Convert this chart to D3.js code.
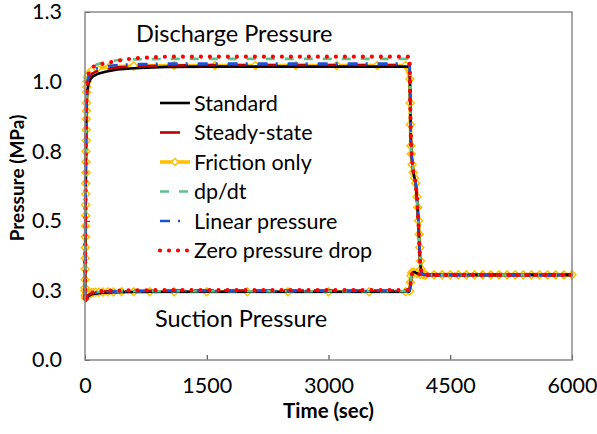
<!DOCTYPE html>
<html>
<head>
<meta charset="utf-8">
<script src="https://cdn.jsdelivr.net/npm/d3@7"></script>
<style>
  body { margin: 0; background: #fff; }
  svg { display: block; font-family: Lato, "Liberation Sans", sans-serif; }
</style>
</head>
<body>
<div id="chart"></div>
<script>
// time axis ticks and pressure ticks (MPa)
var timeTicks = [0, 1500, 3000, 4500, 6000];
var pressTicks = [0, 0.26, 0.52, 0.78, 1.04, 1.3];

var legendNames = ["Standard", "Steady-state", "Friction only", "dp/dt", "Linear pressure", "Zero pressure drop"];

// discharge side, shared times (sec)
var timeDis = [0, 4, 8, 12, 16, 22, 30, 45, 70, 100, 150, 250, 400, 600, 1000, 1500, 2500, 3500, 4000,
  4005, 4010, 4015, 4025, 4045, 4075, 4095, 4110, 4120, 4130, 4145, 4170, 4250, 5000, 6000];
var standardDis = [0.25, 0.45, 0.65, 0.80, 0.90, 0.97, 1.01, 1.035, 1.05, 1.06, 1.068, 1.077, 1.085, 1.09, 1.095, 1.096, 1.096, 1.096, 1.096,
  1.0, 0.9, 0.82, 0.76, 0.70, 0.66, 0.58, 0.50, 0.42, 0.36, 0.325, 0.32, 0.318, 0.318, 0.318];
var steadyDis = [0.24, 0.46, 0.68, 0.84, 0.93, 0.99, 1.025, 1.05, 1.065, 1.072, 1.08, 1.087, 1.093, 1.097, 1.1, 1.102, 1.102, 1.102, 1.102,
  1.0, 0.9, 0.82, 0.76, 0.70, 0.66, 0.58, 0.50, 0.42, 0.36, 0.325, 0.32, 0.318, 0.318, 0.318];
var dpdtDis = [0.26, 0.5, 0.72, 0.88, 0.96, 1.02, 1.05, 1.07, 1.085, 1.095, 1.105, 1.113, 1.12, 1.123, 1.125, 1.125, 1.125, 1.125, 1.125,
  1.0, 0.9, 0.82, 0.76, 0.70, 0.66, 0.58, 0.50, 0.42, 0.36, 0.325, 0.32, 0.318, 0.318, 0.318];
var linearDis = [0.25, 0.48, 0.7, 0.86, 0.94, 1.0, 1.035, 1.06, 1.075, 1.083, 1.09, 1.097, 1.102, 1.105, 1.107, 1.107, 1.107, 1.107, 1.107,
  1.0, 0.9, 0.82, 0.76, 0.70, 0.66, 0.58, 0.50, 0.42, 0.36, 0.325, 0.32, 0.318, 0.318, 0.318];
var zeroDis = [0.23, 0.45, 0.68, 0.85, 0.95, 1.02, 1.05, 1.07, 1.085, 1.095, 1.102, 1.108, 1.118, 1.127, 1.133, 1.133, 1.133, 1.133, 1.133,
  1.0, 0.9, 0.82, 0.76, 0.70, 0.66, 0.58, 0.50, 0.42, 0.36, 0.325, 0.32, 0.318, 0.318, 0.318];

// suction side, shared times (sec)
var timeSuc = [0, 5, 10, 20, 40, 60, 100, 200, 300, 500, 1000, 2000, 3000, 3990, 4000, 4010, 4020, 4035, 4055, 4080, 4120, 4200, 5000, 6000];
var standardSuc = [0.26, 0.23, 0.225, 0.23, 0.238, 0.242, 0.247, 0.25, 0.252, 0.254, 0.255, 0.255, 0.255, 0.255, 0.258, 0.28, 0.31, 0.326, 0.329, 0.325, 0.32, 0.318, 0.318, 0.318];
var steadySuc = [0.25, 0.225, 0.222, 0.232, 0.242, 0.247, 0.252, 0.255, 0.257, 0.258, 0.259, 0.259, 0.259, 0.259, 0.262, 0.285, 0.312, 0.326, 0.329, 0.325, 0.32, 0.318, 0.318, 0.318];
var dpdtSuc = [0.26, 0.235, 0.232, 0.238, 0.245, 0.249, 0.252, 0.255, 0.256, 0.257, 0.257, 0.257, 0.257, 0.257, 0.26, 0.284, 0.311, 0.326, 0.329, 0.325, 0.32, 0.318, 0.318, 0.318];
var linearSuc = [0.25, 0.23, 0.228, 0.235, 0.243, 0.248, 0.252, 0.255, 0.256, 0.257, 0.258, 0.258, 0.258, 0.258, 0.261, 0.284, 0.311, 0.326, 0.329, 0.325, 0.32, 0.318, 0.318, 0.318];
var zeroSuc = [0.24, 0.22, 0.218, 0.228, 0.24, 0.247, 0.253, 0.257, 0.259, 0.26, 0.261, 0.261, 0.261, 0.261, 0.263, 0.285, 0.312, 0.326, 0.329, 0.325, 0.32, 0.318, 0.318, 0.318];

// friction only has its own (denser) output times, every point is a marker
var frictionTimeDis = [0, 1, 2, 3, 4, 5, 6, 7, 8, 9, 10, 11, 12, 13, 14, 15, 16, 17, 18, 20, 22, 25, 30, 40, 60, 90, 150, 300, 600,
  1100, 1600, 2100, 2600, 3100, 3600, 3950, 4003, 4006, 4010, 4015, 4020, 4030, 4045, 4060, 4075, 4090, 4100, 4110, 4118, 4125, 4132, 4140, 4150, 4165, 4180];
var frictionDis = [0.26, 0.30, 0.34, 0.38, 0.42, 0.46, 0.50, 0.54, 0.58, 0.62, 0.66, 0.70, 0.74, 0.78, 0.82, 0.86, 0.90, 0.93, 0.96, 1.0, 1.02, 1.04, 1.055, 1.065, 1.075, 1.083, 1.09, 1.095, 1.098,
  1.1, 1.1, 1.1, 1.1, 1.1, 1.1, 1.1, 1.05, 0.96, 0.88, 0.8, 0.77, 0.73, 0.7, 0.68, 0.66, 0.61, 0.57, 0.52, 0.47, 0.42, 0.37, 0.34, 0.325, 0.32, 0.318];
var frictionTimeSuc = [0, 3, 6, 10, 15, 20, 30, 45, 60, 80, 100, 130, 170, 220, 280, 350, 450, 600, 800, 1100, 1500, 2000, 2500, 3000, 3500, 3950,
  4000, 4008, 4016, 4025, 4040, 4060, 4090, 4130, 4200, 4300, 4400, 4500, 4600, 4700, 4800, 4900, 5000, 5100, 5200, 5300, 5400, 5500, 5600, 5700, 5800, 5900, 6000];
var frictionSuc = [0.27, 0.24, 0.232, 0.235, 0.24, 0.243, 0.246, 0.248, 0.25, 0.251, 0.252, 0.253, 0.253, 0.254, 0.254, 0.254, 0.255, 0.255, 0.255, 0.255, 0.255, 0.255, 0.255, 0.255, 0.255, 0.255,
  0.258, 0.29, 0.315, 0.327, 0.329, 0.327, 0.323, 0.32, 0.318, 0.318, 0.318, 0.318, 0.318, 0.318, 0.318, 0.318, 0.318, 0.318, 0.318, 0.318, 0.318, 0.318, 0.318, 0.318, 0.318, 0.318, 0.318];

var W = 597, H = 434;
var mLeft = 85, mRight = 572, mTop = 12, mBottom = 360;

var x = d3.scaleLinear().domain([0, 6000]).range([mLeft, mRight]);
var y = d3.scaleLinear().domain([0, 1.3]).range([mBottom, mTop]);

function zipSeries(t, v) {
  return t.map(function (d, i) { return [d, v[i]]; });
}

// draw order: friction below the others, like the original plot
var series = [
  { name: "Friction only", color: "#FFC000", width: 3.6, dash: null, marker: true,
    parts: [zipSeries(frictionTimeDis, frictionDis), zipSeries(frictionTimeSuc, frictionSuc)] },
  { name: "Standard", color: "#000000", width: 2.6, dash: null,
    parts: [zipSeries(timeDis, standardDis), zipSeries(timeSuc, standardSuc)] },
  { name: "Steady-state", color: "#C00000", width: 2.6, dash: "20,10",
    parts: [zipSeries(timeDis, steadyDis), zipSeries(timeSuc, steadySuc)] },
  { name: "dp/dt", color: "#5CC28A", width: 2.6, dash: "9,10",
    parts: [zipSeries(timeDis, dpdtDis), zipSeries(timeSuc, dpdtSuc)] },
  { name: "Linear pressure", color: "#1F4FD6", width: 2.6, dash: "10,8,2,10",
    parts: [zipSeries(timeDis, linearDis), zipSeries(timeSuc, linearSuc)] },
  { name: "Zero pressure drop", color: "#FF0000", width: 4.2, dash: "0,9", round: true,
    parts: [zipSeries(timeDis, zeroDis), zipSeries(timeSuc, zeroSuc)] }
];

var svg = d3.select("#chart").append("svg")
  .attr("width", W).attr("height", H);

// axes with inside ticks
var xAxis = d3.axisBottom(x).tickValues(timeTicks).tickSize(-5).tickPadding(18)
  .tickFormat(d3.format("d"));
var yAxis = d3.axisLeft(y).tickValues(pressTicks).tickSize(-5).tickPadding(23)
  .tickFormat(d3.format(".1f"));

var gx = svg.append("g").attr("transform", "translate(0," + mBottom + ")").call(xAxis);
var gy = svg.append("g").attr("transform", "translate(" + mLeft + ",0)").call(yAxis);
[gx, gy].forEach(function (g) {
  g.select(".domain").remove();
  g.selectAll("line").attr("stroke", "#333").attr("stroke-width", 1);
  g.selectAll("text").attr("font-size", 21.5).attr("fill", "#000")
    .attr("font-family", "Lato, sans-serif");
});

var line = d3.line().x(function (d) { return x(d[0]); }).y(function (d) { return y(d[1]); });

var plot = svg.append("g");
series.forEach(function (s) {
  var g = plot.append("g");
  g.selectAll("path").data(s.parts).enter().append("path")
    .attr("d", line)
    .attr("fill", "none")
    .attr("stroke", s.color)
    .attr("stroke-width", s.width)
    .attr("stroke-dasharray", s.dash)
    .attr("stroke-linecap", s.round ? "round" : "butt")
    .attr("stroke-linejoin", "round");
  if (s.marker) {
    var pts = s.parts[0].concat(s.parts[1]);
    g.selectAll("path.mk").data(pts).enter().append("path")
      .attr("class", "mk")
      .attr("d", "M0,-4L4,0L0,4L-4,0Z")
      .attr("transform", function (d) { return "translate(" + x(d[0]) + "," + y(d[1]) + ")"; })
      .attr("fill", "#fff")
      .attr("stroke", s.color)
      .attr("stroke-width", 1.5);
  }
});

// frame
svg.append("rect")
  .attr("x", mLeft).attr("y", mTop)
  .attr("width", mRight - mLeft).attr("height", mBottom - mTop)
  .attr("fill", "none").attr("stroke", "#898989").attr("stroke-width", 1.5);

// annotations
svg.append("text").attr("x", 136).attr("y", 42).attr("font-size", 23.5).text("Discharge Pressure");
svg.append("text").attr("x", 155).attr("y", 327).attr("font-size", 23.5).text("Suction Pressure");

// axis titles
svg.append("text").attr("x", (mLeft + mRight) / 2).attr("y", 418)
  .attr("text-anchor", "middle").attr("font-size", 20.5).attr("font-weight", "bold")
  .text("Time (sec)");
svg.append("text").attr("transform", "translate(24,178) rotate(-90)")
  .attr("text-anchor", "middle").attr("font-size", 19).attr("font-weight", "bold")
  .text("Pressure (MPa)");

// legend in legend order
var legendY0 = 103, legendStep = 29.5;
var legend = svg.append("g");
legendNames.forEach(function (name, i) {
  var s = series.filter(function (d) { return d.name === name; })[0];
  var ly = legendY0 + i * legendStep;
  legend.append("line")
    .attr("x1", 160).attr("x2", 190).attr("y1", ly).attr("y2", ly)
    .attr("stroke", s.color)
    .attr("stroke-width", s.width)
    .attr("stroke-dasharray", s.dash)
    .attr("stroke-linecap", s.round ? "round" : "butt");
  if (s.marker) {
    legend.append("path")
      .attr("d", "M0,-3.6L3.6,0L0,3.6L-3.6,0Z")
      .attr("transform", "translate(175," + ly + ")")
      .attr("fill", "#fff").attr("stroke", s.color).attr("stroke-width", 1.4);
  }
  legend.append("text").attr("x", 194).attr("y", ly + 7.5)
    .attr("font-size", 21.5).text(name);
});
</script>
</body>
</html>
